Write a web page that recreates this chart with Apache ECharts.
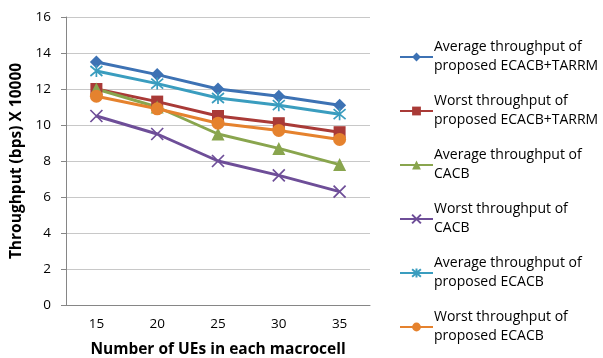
<!DOCTYPE html>
<html>
<head>
<meta charset="utf-8">
<script src="https://cdn.jsdelivr.net/npm/echarts@6/dist/echarts.min.js"></script>
<style>
  html, body { margin: 0; padding: 0; background: #fff; overflow: hidden; }
  #chart { width: 603px; height: 358px; }
</style>
</head>
<body>
<div id="chart"></div>
<script>
// Number of UEs per macrocell
const categories = ['15', '20', '25', '30', '35'];

// Throughput values (bps x 10000)
const avgEcacbTarrm = [13.5, 12.8, 12.0, 11.6, 11.1];
const worstEcacbTarrm = [12.0, 11.3, 10.5, 10.1, 9.6];
const avgCacb = [12.0, 11.0, 9.5, 8.7, 7.8];
const worstCacb = [10.5, 9.5, 8.0, 7.2, 6.3];
const avgEcacb = [13.0, 12.3, 11.5, 11.1, 10.6];
const worstEcacb = [11.6, 10.9, 10.1, 9.7, 9.2];

const seriesNames = [
  'Average throughput of\nproposed ECACB+TARRM',
  'Worst throughput of\nproposed ECACB+TARRM',
  'Average throughput of\nCACB',
  'Worst throughput of\nCACB',
  'Average throughput of\nproposed ECACB',
  'Worst throughput of\nproposed ECACB'
];

const FONT = '"Open Sans", "DejaVu Sans", sans-serif';

function lineSeries(name, data, color, symbol, size, strokeOnly) {
  return {
    name: name,
    type: 'line',
    data: data,
    symbol: symbol,
    symbolSize: size,
    showAllSymbol: true,
    lineStyle: { color: color, width: 3 },
    itemStyle: strokeOnly
      ? { color: 'rgba(0,0,0,0)', borderColor: color, borderWidth: 1.7 }
      : { color: color, borderWidth: 0 },
    emphasis: { disabled: true },
    animation: false
  };
}

const xPath = 'path://M0,0L10,10M10,0L0,10';
const starPath = 'path://M0,0L10,10M10,0L0,10M5,-1L5,11';

const chart = echarts.init(document.getElementById('chart'), null, { renderer: 'canvas' });
chart.setOption({
  backgroundColor: '#ffffff',
  animation: false,
  grid: { left: 66, right: 233, top: 17, bottom: 53, containLabel: false, outerBoundsMode: 'none' },
  xAxis: {
    type: 'category',
    data: categories,
    boundaryGap: true,
    name: 'Number of UEs in each macrocell',
    nameLocation: 'middle',
    nameGap: 37,
    nameTextStyle: { fontFamily: FONT, fontSize: 15.5, fontWeight: 'bold', color: '#000' },
    axisLine: { lineStyle: { color: '#868686', width: 1 } },
    axisTick: { show: false },
    axisLabel: { fontFamily: FONT, fontSize: 13.5, color: '#000', margin: 12 }
  },
  yAxis: {
    type: 'value',
    min: 0, max: 16, interval: 2,
    name: 'Throughput (bps) X 10000',
    nameLocation: 'middle',
    nameGap: 38,
    nameTextStyle: { fontFamily: FONT, fontSize: 15.5, fontWeight: 'bold', color: '#000' },
    axisLine: { show: true, lineStyle: { color: '#868686', width: 1 } },
    axisTick: { show: true, length: 5, lineStyle: { color: '#868686' } },
    axisLabel: { fontFamily: FONT, fontSize: 13.5, color: '#000', margin: 15 },
    splitLine: { lineStyle: { color: '#c8c8c8', width: 1 } }
  },
  legend: {
    orient: 'vertical',
    left: 394,
    top: 33,
    itemWidth: 33,
    itemHeight: 11,
    itemGap: 16,
    textStyle: { fontFamily: FONT, fontSize: 14, color: '#000', lineHeight: 19, padding: [0, 0, 0, -4] },
    data: seriesNames
  },
  series: [
    lineSeries(seriesNames[0], avgEcacbTarrm, '#3D72B4', 'diamond', 13, false),
    lineSeries(seriesNames[1], worstEcacbTarrm, '#A93A37', 'rect', 12, false),
    lineSeries(seriesNames[2], avgCacb, '#89A54E', 'triangle', 13, false),
    lineSeries(seriesNames[3], worstCacb, '#6E4E98', xPath, 12, true),
    lineSeries(seriesNames[4], avgEcacb, '#3A9DBF', starPath, 12, true),
    lineSeries(seriesNames[5], worstEcacb, '#E5822E', 'circle', 13, false)
  ]
});
</script>
</body>
</html>
